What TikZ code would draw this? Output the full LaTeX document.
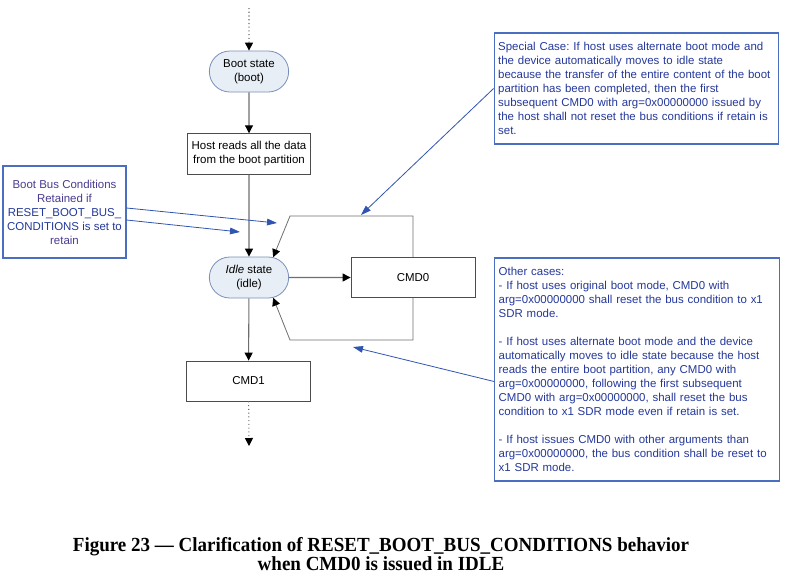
\documentclass[tikz,border=0pt]{standalone}
\usepackage{fontspec}
\setmainfont{Liberation Sans}
\newfontfamily\capfont[FakeStretch=0.95]{Liberation Serif}
\usetikzlibrary{arrows.meta,shapes.misc}
\definecolor{statefill}{HTML}{E8EEF6}
\definecolor{stateedge}{HTML}{7A90B8}
\definecolor{flowgray}{HTML}{6E6E6E}
\definecolor{noteedge}{HTML}{4A6FC0}
\definecolor{notetext}{HTML}{24389A}
\definecolor{notepurple}{HTML}{4A3A90}
\definecolor{hintblue}{HTML}{2F55B0}
\def\body{\fontsize{8.6}{10.5}\selectfont\frenchspacing}
\tikzset{
	state/.style={rounded rectangle, draw=stateedge, fill=statefill, line width=0.6pt, minimum width=61.5pt, minimum height=30.75pt, align=center, font=\body, inner sep=1pt},
	cmdbox/.style={rectangle, draw=black!70, fill=white, line width=0.6pt, minimum width=92.5pt, minimum height=30.5pt, align=center, font=\body},
	note/.style={rectangle, draw=noteedge, line width=0.9pt, text=notetext, font=\body, inner sep=3pt},
	flow/.style={draw=flowgray, line width=0.8pt, -{Triangle[length=6pt,width=6pt,color=black]}},
	hint/.style={draw=hintblue, line width=0.6pt, -{Triangle[length=7.5pt,width=5pt]}}
}

\begin{document}
\begin{tikzpicture}[x=0.75pt, y=-0.75pt]
			%%%%% START %%%%%
			\useasboundingbox (0, 0) rectangle (787, 576);
			
			% main flow
			\coordinate (topin) at (249, 8);
			\node[state] (boot) at (249, 71.5) {Boot state\\(boot)};
			\node[cmdbox] (host) at (249, 154) {Host reads all the data\\from the boot partition};
			\node[state] (idle) at (249, 277.5) {\textit{Idle} state\\(idle)};
			\node[cmdbox, minimum width=93pt] (cmdzero) at (413, 277.5) {CMD0};
			\node[cmdbox, minimum height=30pt] (cmdone) at (248.5, 381) {CMD1};
			\coordinate (botout) at (249, 446);
			
			\draw[flow, dotted] (topin) -- (boot);
			\draw[flow] (boot) -- (host);
			\draw[flow] (host) -- (idle);
			\draw[flow] (idle) -- (cmdzero);
			\draw[flow] (idle) -- (cmdone);
			\draw[flow, dotted] (cmdone) -- (botout);
			
			% CMD0 loops back to idle
			\coordinate (looptop) at (290, 216);
			\coordinate (loopbot) at (290, 340);
			\draw[flow, line width=0.6pt] (cmdzero.north) |- (looptop) -- (idle.40);
			\draw[flow, line width=0.6pt] (cmdzero.south) |- (loopbot) -- (idle.-40);
			
			% notes
			\node[note, minimum width=92.25pt, minimum height=69pt, align=center] (bbc) at (64.5, 212) {\textcolor{notepurple}{Boot Bus Conditions}\\\textcolor{notepurple}{Retained if}\\RESET\_BOOT\_BUS\_\\CONDITIONS is set to\\\textcolor{notepurple}{retain}};
			
			\node[note, text width=207.5pt, minimum height=83.25pt, align=left] (special) at (636.5, 88.5) {Special Case: If host uses alternate boot mode and\\the device automatically moves to idle state\\because the transfer of the entire content of the boot\\partition has been completed, then the first\\subsequent CMD0 with arg=0x00000000 issued by\\the host shall not reset the bus conditions if retain is\\set.};
			
			\node[note, text width=207.5pt, minimum height=167.25pt, align=left] (other) at (637, 369.5) {Other cases:\\- If host uses original boot mode, CMD0 with\\arg=0x00000000 shall reset the bus condition to x1\\SDR mode.\\[10.5pt]- If host uses alternate boot mode and the device\\automatically moves to idle state because the host\\reads the entire boot partition, any CMD0 with\\arg=0x00000000, following the first subsequent\\CMD0 with arg=0x00000000, shall reset the bus\\condition to x1 SDR mode even if retain is set.\\[10.5pt]- If host issues CMD0 with other arguments than\\arg=0x00000000, the bus condition shall be reset to\\x1 SDR mode.};
			
			% note pointers
			\coordinate (bbcone) at (277, 223);
			\coordinate (bbctwo) at (240, 232);
			\coordinate (specialin) at (361, 215);
			\coordinate (otherin) at (353, 347);
			\draw[hint] ([yshift=3pt]bbc.east) -- (bbcone);
			\draw[hint] ([yshift=-6pt]bbc.east) -- (bbctwo);
			\draw[hint] (special.west) -- (specialin);
			\draw[hint] ([yshift=-9pt]other.west) -- (otherin);
			
			% caption
			\node[align=center, font=\capfont\bfseries\fontsize{15}{13.5}\selectfont] (caption) at (381, 554) {Figure 23 — Clarification of RESET\_BOOT\_BUS\_CONDITIONS behavior\\when CMD0 is issued in IDLE};
			
			%%%%% END %%%%%
\end{tikzpicture}
\end{document}
